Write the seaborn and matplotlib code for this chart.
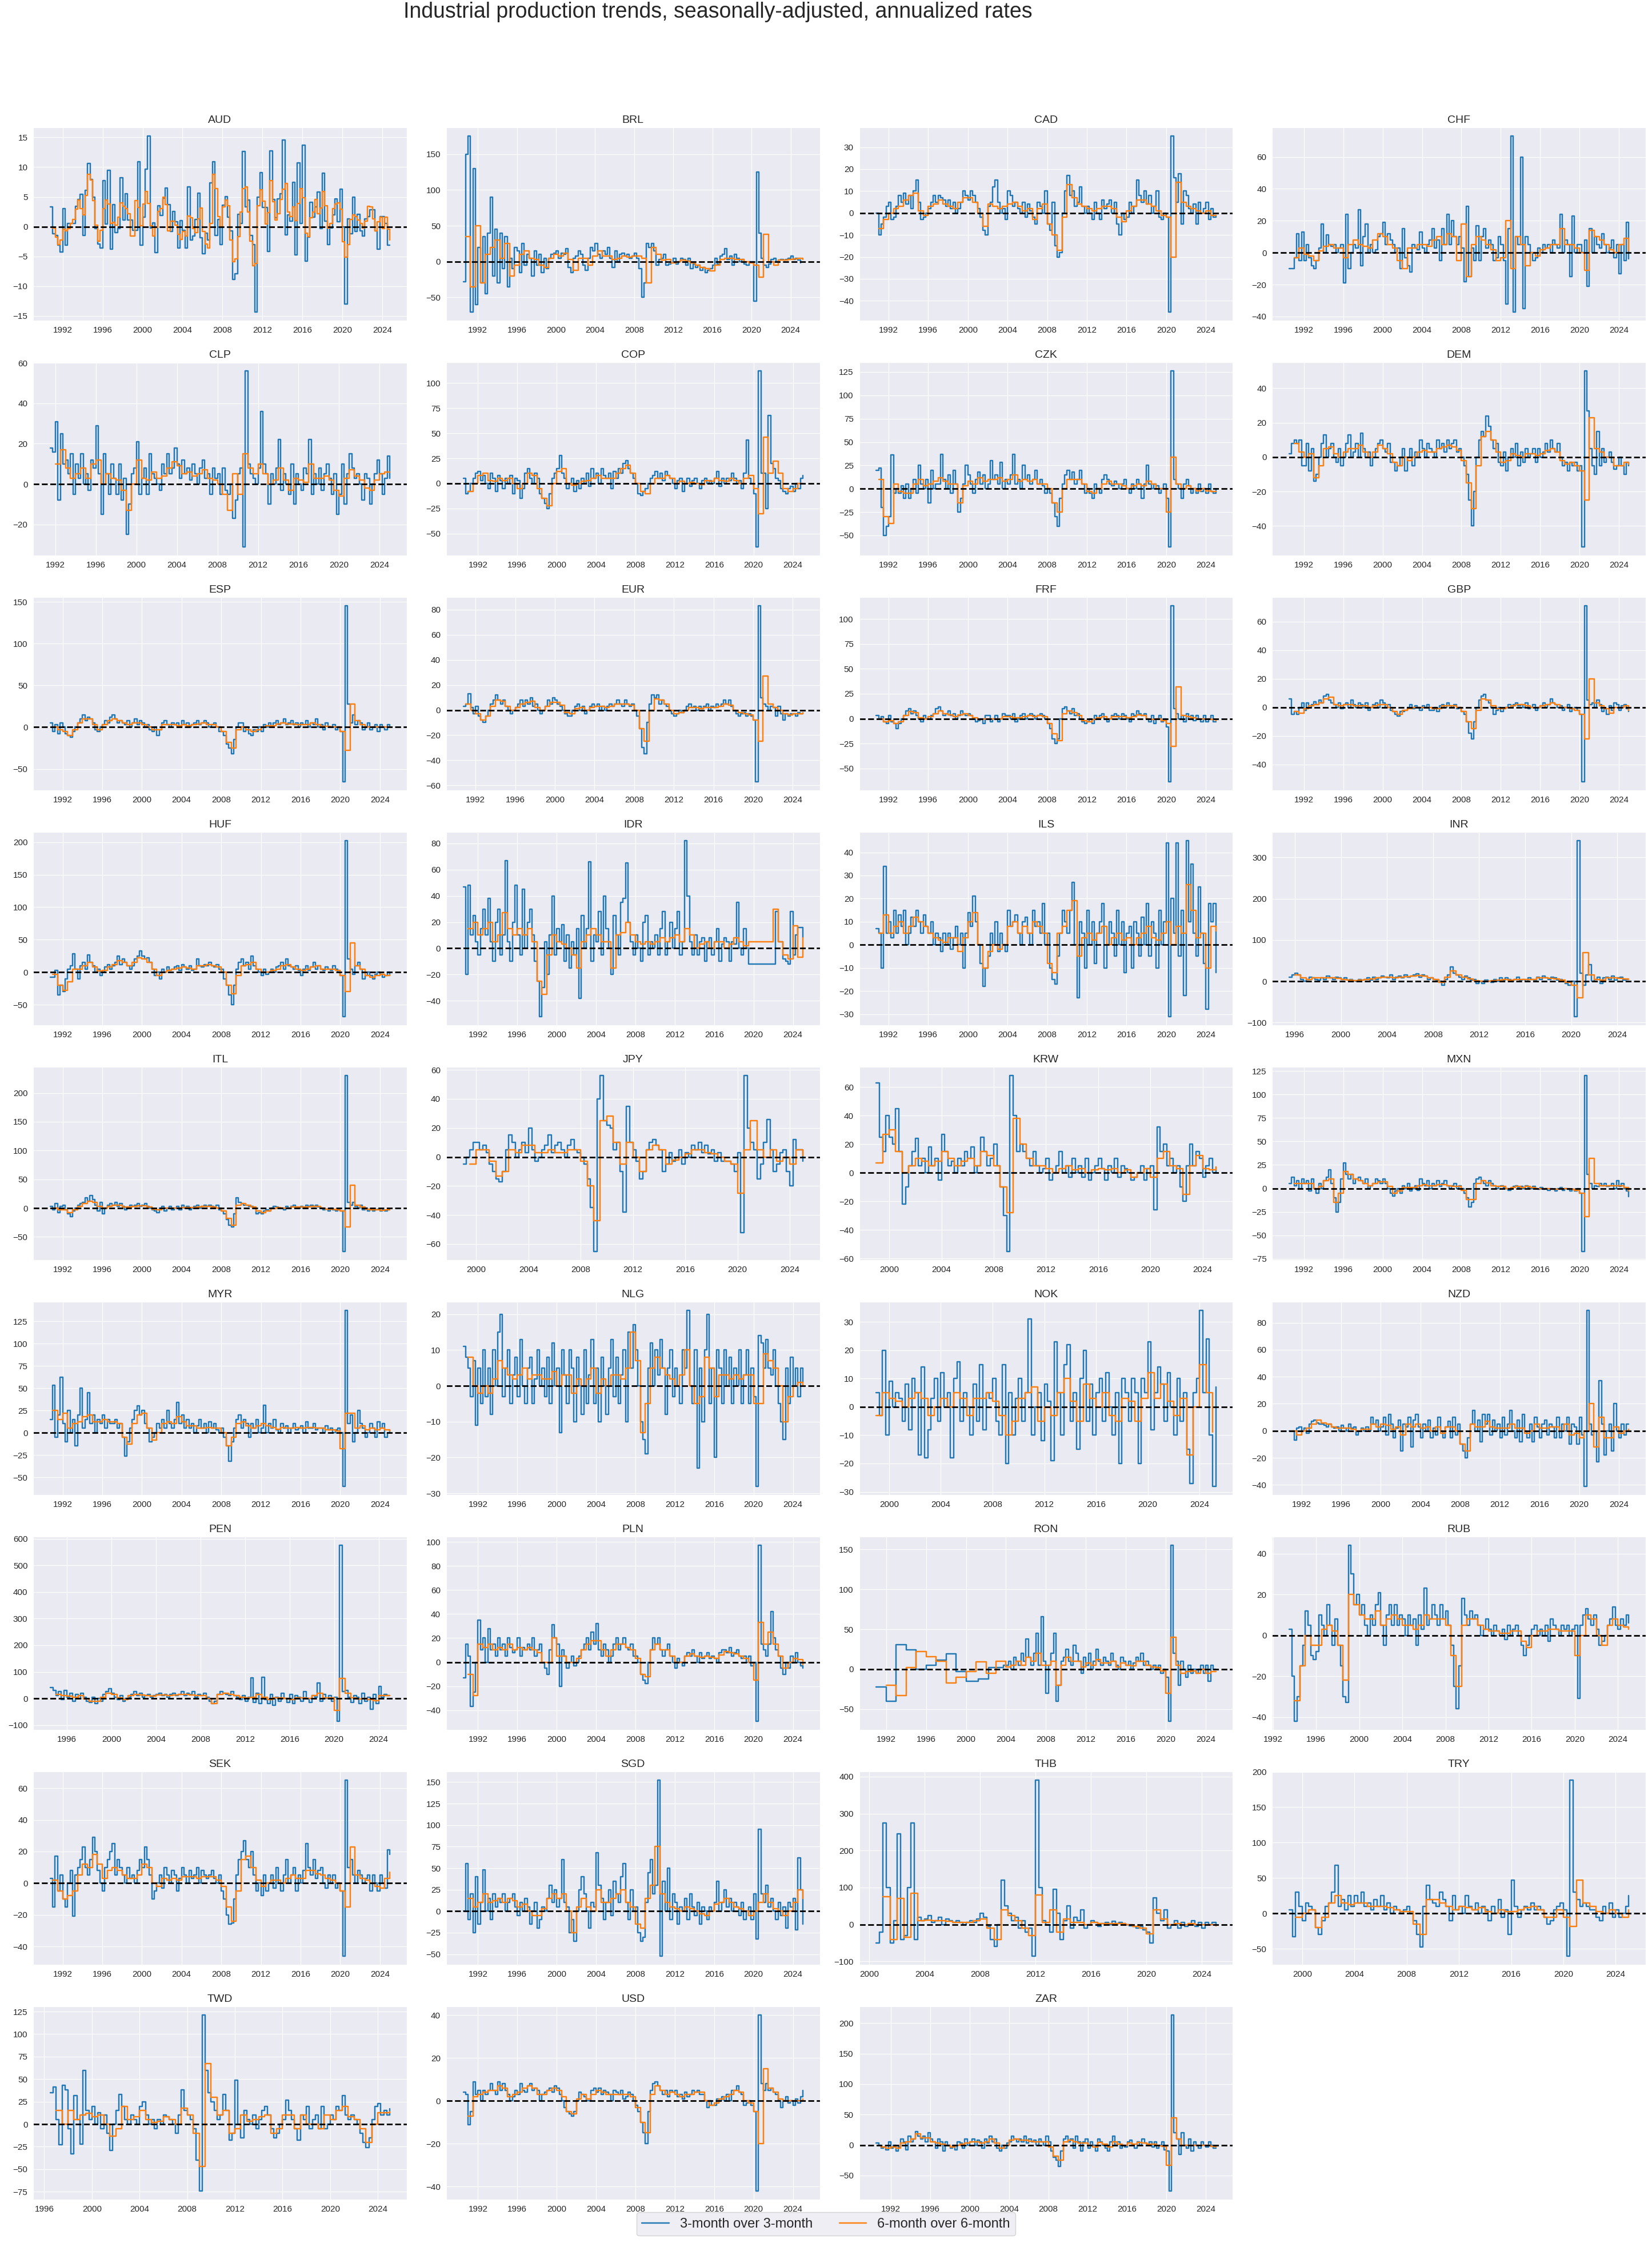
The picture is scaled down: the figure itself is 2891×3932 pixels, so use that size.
import numpy as np
import pandas as pd
import matplotlib
matplotlib.use("Agg")
import matplotlib.pyplot as plt
import matplotlib.dates as mdates
from matplotlib.lines import Line2D
import seaborn as sns

TITLE = "Industrial production trends, seasonally-adjusted, annualized rates"
LABEL_3M = "3-month over 3-month"
LABEL_6M = "6-month over 6-month"
CODES = ["AUD", "BRL", "CAD", "CHF", "CLP", "COP", "CZK", "DEM", "ESP", "EUR", "FRF", "GBP",
         "HUF", "IDR", "ILS", "INR", "ITL", "JPY", "KRW", "MXN", "MYR", "NLG", "NOK", "NZD",
         "PEN", "PLN", "RON", "RUB", "SEK", "SGD", "THB", "TRY", "TWD", "USD", "ZAR"]

# ---- data: (start date, step in months, values) ----
AUD_3M_START, AUD_3M_STEP = "1990-10-01", 3
AUD_3M = [3.3,
          -1.2, -1.5, -3.1, -4.3, 3.0, -3.1, 0.5, 0.5, 0.5, 3.4, 4.6, 5.4, -1.5, 6.1, 10.6, 7.9,
          5.0, -0.3, -2.9, -3.6, 7.7, 0.4, 9.5, -3.8, 3.7, -1.0, -0.3, 8.2, 1.1, 5.5, 1.1, 1.1,
          -0.6, -0.6, 10.9, -3.1, 1.6, 9.7, 15.2, -0.2, 0.6, -4.4, 3.5, 1.9, 4.8, 6.5, 3.7, -0.8,
          2.6, 0.8, -3.6, 1.0, -0.6, -3.6, 6.7, -2.2, -1.6, 1.2, 5.6, -1.9, -4.5, -1.1, -2.2, 7.4,
          10.9, -1.5, 1.2, -3.0, 3.6, 5.1, 1.6, -0.7, -8.9, -7.9, 2.1, 0.5, 12.6, 3.3, 4.5, -1.5,
          -3.0, -14.3, 5.0, 9.1, 3.2, 3.2, -4.2, 12.7, 4.6, 1.5, 4.7, 5.5, 14.6, -1.4, 2.0, 0.9,
          7.5, -4.7, 10.7, 0.5, 13.7, -5.8, -1.8, 4.1, 1.6, 3.3, 5.8, -0.3, 9.0, 0.9, -3.0, -0.2,
          2.0, 4.7, 0.8, 6.3, 0.0, -13.0, 1.3, -1.2, 5.0, -0.8, 2.1, -0.7, -1.6, 1.3, 1.7, 2.8,
          2.8, -0.7, -3.8, 1.7, 1.7, 0.5, -3.1, -3.1]
AUD_6M_START, AUD_6M_STEP = "1991-01-01", 3
AUD_6M = [-0.2, -1.8, -3.0, -2.2, -0.4, -0.7, -0.3, 0.5, 1.2, 2.9, 4.5, 3.0, 2.0, 5.2, 8.8, 7.8,
          4.4, 0.3, -2.4, -0.6, 3.0, 4.5, 3.8, 0.5, 0.7, 0.3, 1.6, 4.0, 3.4, 3.0, 2.2, -1.6,
          -1.6, 4.4, 3.2, 0.2, 3.8, 5.9, 3.9, 0.2, -1.6, -0.1, 2.6, 3.0, 5.0, 3.7, -0.7, 0.9,
          0.9, 0.3, -1.3, -2.1, -0.8, -1.6, 1.8, 1.5, -0.3, -1.0, 1.3, 3.1, -0.8, -2.9, -3.6, 0.5,
          8.8, 6.4, 1.7, 0.0, 3.3, 4.5, 3.5, -2.2, -5.9, -5.4, -1.7, 2.5, 6.4, 6.7, 2.5, -2.4,
          -6.6, -6.2, 3.5, 6.2, 4.3, 0.4, 2.4, 7.7, 4.2, 1.1, 2.2, 4.6, 6.3, 7.3, 2.5, 1.7,
          3.3, 1.0, 3.9, 6.4, 4.9, -1.1, -1.7, 1.5, 2.5, 4.6, 2.2, 3.1, 5.9, 3.5, -0.2, 0.5,
          3.0, 3.8, 4.0, 2.9, -2.5, -5.1, -3.0, 1.2, 2.0, 1.7, 1.1, 0.5, -0.2, 0.9, 3.4, 3.3,
          1.3, -0.7, 0.8, 1.6, -0.3, 1.6, -0.4, -2.2]

BRL_3M_START = "1990-07-01"
BRL_3M = [-28, 150,
          175, -70, 130, -60, 20, -30, 35, -45, 40, 90, -20, 45, -30, 40, -10, 35,
          -35, 5, -10, 20, 15, -15, 25, -5, 10, 5, -20, 15, -5, 10, -15, 5,
          -10, 5, 10, 12, 15, 5, 12, 10, 18, -8, -15, 5, 8, 15, 10, -5,
          -12, 5, 20, 15, 25, 10, 5, 15, 10, 20, 5, -8, 15, 0, 10, 12,
          8, 10, 5, 8, 12, 5, -10, -50, -30, 25, 20, 25, 15, -5, 3, 5,
          10, -5, -3, -2, 5, -3, 0, 5, 3, -5, 5, -10, -3, -8, -5, -12,
          -8, -15, -12, -10, -5, 5, -3, 8, 10, 18, 3, 8, -5, 10, 5, 0,
          3, -3, -5, 0, 0, -55, 125, 40, 5, -5, -8, -3, 3, 5, 0, 2,
          3, 2, 3, 5, 8, 3, 5, 2, -2]
BRL_6M_START = "1990-10-01"
BRL_6M = [35, -35, 50, -30, 10, 20, 30, 5, 25, -20, -5, 10, 15, 5, 3, -5, -8, 5, 10, 8,
          12, 3, -12, 5, 5, -5, 8, 15, 8, 8, 3, 5, 8, 6, 8, 8, 5, -30, 20, 10,
          2, 3, -2, 0, 2, 1, -2, -5, -8, -10, -13, -5, 3, 5, 5, 3, 3, 0, -2, -5,
          -22, 38, 0, -5, 2, 2, 3, 4, 5, 3]

CAD_3M_START = "1990-10-01"
CAD_3M = [0,
          -10, -5, -2, 3, 5, -3, -2, 3, 8, 5, 9, 4, 8, 2, 10, 15,
          5, -3, -2, 0, 2, 5, 8, 5, 8, 7, 6, 3, 6, 2, 5, 0,
          2, 5, 10, 8, 6, 10, 8, 5, 2, -2, -8, -10, 3, 5, 12, 15,
          5, 0, 2, -3, 10, 8, 3, 5, 2, 0, 5, -2, 4, 1, -2, -5,
          5, 3, 0, 10, -5, -8, 5, -15, -20, -18, 0, 10, 17, 8, 10, 3,
          5, 12, 3, 0, 3, 0, -3, 5, 0, -3, 6, 2, 4, 6, 0, 5,
          -5, -10, 0, -3, -2, 5, 0, 3, 15, 8, 5, 10, 4, 8, 0, 3,
          10, -2, -3, 0, -2, -45, 35, 16, 5, 18, -5, 10, 8, 2, 0, 4,
          -5, 5, 0, 2, 5, -3, 2, -2, -1]
CAD_6M_START = "1991-01-01"
CAD_6M = [-7, -3, 0, 2, 3, 6, 8, 9, 1, -1, 3, 4, 6, 4, 3, 2, 5, 7, 7, 5,
          0, -6, 4, 3, 2, 3, 4, 5, 3, 1, 2, -3, 2, 4, -5, -10, -17, -2, 13, 7,
          4, 3, 2, 1, 2, 3, 3, 2, -2, -4, 1, 3, 6, 6, 4, 3, 1, -1, -2, -20,
          14, 5, 3, 2, 1, 0, 1, -1, -1]

CHF_3M_START = "1990-07-01"
CHF_3M = [-10, -10,
          -3, 12, -5, 13, -5, 5, -3, -8, -10, -5, 3, 18, 0, 11, 5, 4,
          5, 0, 3, 5, -19, 24, -10, 0, 5, 3, 27, -8, 10, 18, 0, 5,
          0, 2, 10, 12, 19, 5, 12, 8, 5, 0, 3, -10, 15, -3, -8, -12,
          5, 3, 2, 13, 3, 0, 5, 8, 15, 3, 8, -5, 15, 5, 24, 5,
          20, 10, 5, 10, 3, -18, 29, -15, 3, -5, 17, -5, 10, 15, 3, 8,
          5, -5, -3, 10, 5, -5, -32, 15, 73, -37, 10, 5, 60, -35, 10, 5,
          0, -5, -3, 3, 0, 5, 3, 5, 0, 8, 5, 3, 24, 0, 8, 5,
          -15, 23, 0, 5, 5, 0, 8, -21, 15, 0, 10, 5, 3, 12, 5, 0,
          3, 8, -3, 5, -13, 5, -5, 19, -4]
CHF_6M_START = "1991-01-01"
CHF_6M = [-3, 3, -1, -2, -5, 1, 4, 5, 3, 3, -3, 5, 8, 5, 4, 3, 8, 12, 10, 5,
          3, -5, -10, 3, 3, 5, 5, 4, 8, 10, 5, 12, 10, -5, 18, -15, 5, 10, 8, 5,
          2, -5, -3, 20, -10, 10, 5, -8, 0, -2, 2, 3, 5, 5, 15, 5, 5, 3, 0, -11,
          14, 10, 8, 5, 2, 0, 5, 9, 1]

CLP_3M_START = "1991-07-01"
CLP_3M = [18, 16,
          31, -8, 25, 10, 12, 5, 15, -5, 10, 3, 15, 0, 5, -3, 12, 8,
          29, 5, -15, 15, 5, -5, 10, 3, -5, 10, -8, 3, -25, -10, 5, 8,
          21, -5, 3, 8, -5, 15, 5, 3, 0, -3, 10, 5, 15, 5, 8, 18,
          10, 3, 12, 5, 8, 2, 10, 5, 0, 8, 12, 3, 5, -5, 8, 3,
          5, -5, 8, -3, -5, 0, -17, -8, 5, 8, -31, 56, 10, 5, 3, 0,
          8, 36, 10, 5, -10, 5, 0, 8, 22, -3, 5, 0, -5, 10, -10, 5,
          0, -3, 8, 5, 22, -5, 5, 0, 8, -3, 5, 10, 3, -5, 5, -15,
          -5, 10, -10, 5, 15, 8, 3, 5, 0, -8, 5, 3, -10, 0, 5, 12,
          5, -5, 3, 14, 3]
CLP_6M_START = "1992-01-01"
CLP_6M = [10, 17, 8, 3, 5, 8, 3, 10, 12, 0, 5, 3, 2, -3, -13, 0, 12, 3, 2, 6,
          3, 4, 8, 11, 9, 5, 6, 4, 5, 7, 3, 2, 0, -5, -13, 5, -5, 15, 8, 5,
          10, 5, 0, 2, 8, 2, -3, 3, 2, 1, 10, 3, 3, 4, 2, -3, -6, 3, 7, 4,
          2, -2, -3, 2, 5, 6, 6]

COP_3M_START = "1990-07-01"
COP_3M = [5, -10,
          -8, 0, 5, 10, 12, 3, 8, 0, -5, 10, 5, -8, 8, 3, -5, 5,
          0, 8, -10, 5, 3, -15, -5, 10, 15, 5, 0, 10, 5, -10, -15, -20,
          -25, -10, 5, 10, 15, 28, 10, 5, -5, 0, 5, -8, 3, -5, 5, 0,
          10, -3, 15, 5, 10, 0, 15, 8, 5, 10, -5, 12, 5, 15, 10, 20,
          23, 15, 10, 5, 0, -10, -12, -8, -5, 0, 5, 8, 12, 5, 10, 3,
          12, 8, 5, 0, -5, 3, 5, -8, 0, 5, -3, 3, 5, 0, -5, 3,
          5, 0, 3, 0, 5, 12, -3, 5, 0, 5, 3, 10, 5, 0, 3, -5,
          10, 43, 5, 0, -10, -63, 112, 10, 10, -25, 68, 20, 15, 5, 3, -5,
          -8, -10, -5, -3, -8, 0, -5, 5, 8]
COP_6M_START = "1991-01-01"
COP_6M = [-8, 0, 8, 10, 3, 2, 5, 3, 5, 0, -5, 0, 10, 8, -5, -15, -22, 0, 12, 15,
          0, -2, 0, 2, 3, 5, 8, 5, 5, 5, 10, 15, 18, 10, 0, -8, -10, 0, 5, 5,
          8, 5, 0, 2, 0, 1, 0, -1, 3, 2, 5, 3, 2, 5, 3, 0, 5, 8, -5, -30,
          46, 10, 22, 10, -5, -8, -5, 0, 0]

CZK_3M_START = "1990-10-01"
CZK_3M = [20,
          22, -20, -50, -40, -30, 36, -5, 0, -5, 3, -10, 5, -10, 0, 10, -5,
          25, 5, 0, 10, -15, 20, 0, 5, 5, 37, 10, 0, 15, -5, 20, 5,
          -25, -10, 5, 25, 15, 5, -5, 10, 18, 5, 15, 0, 5, 30, 10, 15,
          5, 28, 0, 10, 5, 15, 37, 5, 10, 0, 25, 10, 15, 5, 10, 20,
          5, 10, 3, -5, 0, -5, -15, -30, -40, -10, 5, 15, 20, 10, 18, 5,
          10, 20, 5, -5, 0, -5, -10, 5, 0, -5, 10, 15, 10, 5, 3, 8,
          5, 0, 5, 10, 0, -5, 5, 0, 10, 5, -10, 5, 25, 5, 0, 5,
          3, -5, 0, 5, -10, -62, 126, 10, 5, 0, -10, 5, 10, 3, -5, 0,
          -5, 5, -3, 0, -5, 5, -3, -5, 0]
CZK_6M_START = "1991-01-01"
CZK_6M = [10, -30, -37, 5, -3, -5, -5, 5, 10, 3, 5, 8, 12, 8, 5, 5, -15, 3, 8, 5,
          12, 8, 10, 10, 12, 8, 10, 15, 8, 10, 8, 10, 5, 5, 0, -15, -25, 0, 10, 10,
          10, 5, -3, -5, 0, 5, 8, 5, 5, 3, 0, 3, 5, 3, 8, 5, 0, 0, -25, 34,
          5, 0, 3, 0, -2, 0, -2, -3, -3]

DEM_3M_START = "1990-07-01"
DEM_3M = [2, 8,
          10, 8, 10, -5, -5, 8, -8, 5, -14, -10, 0, 8, 13, 0, 5, 8,
          0, -3, 5, -5, 0, 8, 13, 0, 3, 8, 0, 14, 5, 0, 3, -5,
          0, 5, 8, 10, 5, 3, 8, -3, -3, -8, -5, 0, 5, -8, 0, 5,
          -5, 3, 0, 10, 5, 0, 8, 5, 3, 0, 10, 5, 8, 3, 10, 5,
          8, 10, 3, 5, 0, -5, -10, -25, -40, -20, 0, 10, 15, 12, 24, 18,
          10, 5, 8, -3, -5, 3, -8, 0, 5, 0, 8, -5, 3, -3, 5, 0,
          2, 5, -3, 5, 0, 3, 8, 3, 10, 5, 3, 8, 0, -5, -3, -8,
          -3, -5, -3, -8, -5, -52, 50, 27, 5, -5, -10, 15, -5, 5, -3, 0,
          3, -3, -7, -5, 0, -5, -10, -3, -5]
DEM_6M_START = "1991-01-01"
DEM_6M = [8, 3, 0, 2, -12, -5, 5, 6, 2, 0, 3, 5, 5, 7, 3, 0, 3, 7, 5, 2,
          -3, -5, 0, -2, 0, 3, 4, 3, 3, 5, 6, 7, 6, 4, -2, -15, -30, -5, 12, 15,
          10, 3, -3, -2, 2, 1, 0, 2, 2, 1, 2, 4, 5, 3, -2, -4, -3, -5, -8, -25,
          23, 5, 3, 0, 0, -5, -5, -3, -4]

ESP_3M_START = "1990-10-01"
ESP_3M = [5,
          -5, 3, -8, 5, 0, -8, -10, -12, -5, 0, 5, 10, 15, 8, 12, 10,
          5, -3, -5, 0, 3, 8, 5, 12, 15, 10, 5, 8, 5, 3, 8, 0,
          5, 10, 3, 8, 5, 0, 3, -3, -5, 0, -10, -3, 5, 8, 3, 0,
          5, 3, 5, 0, 8, 3, 5, 0, 3, 5, 8, 3, 5, 8, 5, 0,
          3, 5, 0, -5, -5, -10, -20, -25, -32, -15, 0, 5, 5, -5, 0, -8,
          -10, -3, -5, 0, -5, 3, 0, 5, 0, 5, 8, 3, 5, 10, 3, 5,
          8, 3, 5, 0, 5, 3, 8, 0, 5, 3, 10, 0, 3, -3, 5, 0,
          0, 3, -3, 0, -5, -65, 145, 28, 5, 15, 3, 8, 5, -3, 0, 5,
          -3, 0, 3, -5, 3, 0, -3, 3, 0]
ESP_6M_START = "1991-01-01"
ESP_6M = [0, -3, -5, -10, -3, 5, 10, 10, 3, -3, 3, 8, 10, 8, 5, 3, 5, 5, 3, 0,
          -3, -3, 3, 3, 3, 2, 3, 2, 3, 4, 5, 3, 3, 0, -5, -18, -25, -3, 0, -3,
          -5, -3, 0, 2, 2, 4, 5, 4, 4, 3, 3, 3, 5, 3, 1, 1, 0, 0, -5, -28,
          28, 8, 3, 0, 0, 0, 0, 0, 0]

EUR_3M_START = "1990-10-01"
EUR_3M = [3,
          5, 13, 2, -3, 3, -5, -8, -10, -5, 0, 5, 8, 12, 8, 5, 8,
          3, 0, -3, 0, 2, 5, 8, 3, 8, 5, 10, 3, 5, 0, -3, 0,
          3, 8, 5, 10, 8, 5, 3, 0, -3, -5, -5, 0, 3, 5, 0, 3,
          -3, 0, 3, 5, 3, 5, 0, 3, 0, 3, 5, 3, 5, 8, 5, 3,
          8, 5, 3, 5, 0, -5, -15, -30, -35, -10, 5, 12, 10, 12, 5, 8,
          5, 3, 0, -3, -5, -3, 0, -2, 0, 3, 5, 2, 3, 0, 3, 1,
          3, 5, 0, 3, 2, 5, 3, 5, 8, 5, 8, 3, 0, -3, -5, -3,
          -2, -5, -3, -5, -8, -57, 83, 10, 5, 3, 0, 3, 2, -5, 3, -3,
          -8, -3, -5, -3, -3, -5, -2, -3, -2]
EUR_6M_START = "1991-01-01"
EUR_6M = [5, 0, -3, -8, -5, 3, 8, 7, 3, 0, 2, 5, 6, 7, 2, 0, 3, 6, 6, 4,
          -2, -3, 1, 2, 0, 2, 3, 3, 2, 3, 5, 5, 5, 4, 0, -15, -25, 0, 9, 8,
          5, 0, -3, -2, 0, 2, 2, 1, 2, 2, 2, 3, 5, 4, 0, -2, -3, -4, -8, -25,
          27, 5, 2, 0, -3, -4, -3, -3, -2]

FRF_3M_START = "1990-10-01"
FRF_3M = [3,
          0, 2, -3, -5, 3, -3, -5, -10, -5, 0, 3, 8, 10, 5, 8, 3,
          0, -3, 3, 0, 0, 3, 5, 10, 12, 8, 3, 5, 8, 3, 5, 0,
          3, 8, 5, 3, 5, 3, 0, -3, -2, 0, -5, 3, 3, -3, 0, 3,
          -3, 0, 5, 3, 3, 0, 5, -3, 0, 3, 5, 0, 3, 5, 3, 0,
          3, 5, 3, 0, -5, -10, -20, -25, -20, 0, 10, 12, 8, 5, 10, 3,
          5, 0, -3, -5, -3, 0, -5, 3, 0, 3, 5, 0, -3, 0, 3, 5,
          3, 0, 5, 3, 0, -3, 5, 3, 8, 5, 3, 5, 0, -3, 3, -5,
          0, 3, -3, 0, -8, -63, 113, 10, 5, 0, 3, -3, 5, 0, 3, -2,
          3, 0, -3, 3, -3, 0, 3, -3, -3]
FRF_6M_START = "1991-01-01"
FRF_6M = [0, -3, -2, -5, -3, 3, 7, 6, 1, 0, 2, 5, 8, 5, 4, 2, 4, 5, 3, 1,
          -1, 0, 0, 0, 0, 2, 2, 1, 1, 2, 3, 2, 3, 2, -5, -15, -22, 5, 8, 6,
          3, -2, -3, -1, 1, 2, 0, 2, 2, 2, 1, 2, 4, 3, 0, -1, 0, -2, -5, -28,
          32, 3, 2, 1, 0, 0, 0, -1, -2]

GBP_3M_START = "1990-07-01"
GBP_3M = [6, -5,
          -3, -5, 0, 3, -2, 3, 0, 2, 4, 2, 5, 3, 8, 9, 5, 3,
          2, 0, 3, -1, 2, 3, 0, 5, 2, 0, 3, 2, 0, 3, -2, 0,
          2, 3, 0, 5, 3, 0, 2, -2, -3, -5, -6, -3, -3, -2, 0, 2,
          -1, 1, 0, -2, 1, 0, 2, -2, -2, 0, -3, 1, 2, 0, 3, 1,
          0, 2, -1, 0, -3, -5, -10, -18, -22, -10, 0, 5, 8, 9, 5, 3,
          0, -5, -2, 0, -3, -1, 0, 2, 0, 2, 3, 1, 2, 0, 3, -1,
          0, 2, -2, 0, 1, 3, 0, 2, 6, 3, 2, 0, 1, -2, 0, 2,
          -3, -1, 0, -2, -5, -52, 71, 5, 2, 3, 0, 5, 2, -3, -1, -5,
          1, -2, 3, 2, -2, 1, 2, -1, -3]
GBP_6M_START = "1991-01-01"
GBP_6M = [-3, -4, -1, 1, 2, 3, 6, 7, 2, 1, 2, 2, 1, 1, 1, 0, 1, 2, 2, 0,
          -3, -5, -2, -1, 0, 0, 0, 0, -1, -1, 1, 1, 1, 0, -3, -10, -15, -2, 6, 5,
          1, -1, -1, 0, 1, 2, 2, 1, 0, 0, 1, 2, 3, 2, 0, 0, -1, -2, -5, -22,
          20, 3, 1, -1, -4, 0, 0, 1, -2]

HUF_3M_START = "1990-10-01"
HUF_3M = [-8,
          -8, 3, -35, -20, -30, -10, 5, 10, 28, 5, -10, 10, 15, 5, 27, 15,
          10, 0, 5, -5, 0, 8, 12, 5, 10, 15, 25, 12, 20, 15, 10, 5,
          10, 20, 25, 33, 25, 20, 22, 15, 5, -5, 0, -10, 5, 0, 8, 3,
          5, 8, 10, 3, 12, 8, 5, 10, 3, 5, 20, 10, 8, 12, 10, 15,
          10, 8, 12, 5, 5, -10, -20, -35, -50, -20, 5, 15, 20, 10, 15, 5,
          25, 10, 5, 0, -5, 5, -3, 0, 5, 0, 8, 10, 15, 5, 20, 10,
          8, 5, 10, 3, -5, 5, 10, 3, 8, 15, 5, 10, 5, 3, 8, 5,
          3, 10, 5, 0, -5, -68, 202, 20, 5, -3, 10, 15, 5, -10, -5, 0,
          -5, -10, -3, 0, -3, -8, -5, 0, -5]
HUF_6M_START = "1991-01-01"
HUF_6M = [-3, -20, -28, -15, 5, 5, 10, 15, 8, 2, 3, 8, 12, 18, 15, 10, 15, 22, 20, 15,
          5, -5, 0, 3, 5, 6, 8, 6, 5, 10, 10, 12, 10, 8, 0, -20, -33, -5, 10, 12,
          15, 5, 0, 0, 3, 5, 10, 12, 8, 5, 3, 5, 8, 10, 5, 5, 5, 3, -5, -30,
          45, 10, 5, -5, -8, -5, -3, -5, -4]

IDR_3M_START = "1990-07-01"
IDR_3M = [47, -20,
          48, 10, 25, 5, -5, 15, 30, 10, 38, 5, -10, 20, 30, -5, 10, 67,
          5, -10, 20, 48, 10, -5, 45, 0, 20, 30, 10, -10, -25, -52, -30, 5,
          -20, 10, 40, -5, 15, 5, 18, -10, 10, -15, 5, -5, 15, -38, 25, 0,
          15, 66, -10, 10, 5, 28, -5, 40, 15, 0, -20, 25, 10, -5, 35, 38,
          65, 20, 5, -5, 10, 0, -10, 20, 25, -5, 5, 0, 10, -5, 15, 28,
          -5, 5, 20, 0, 15, 28, -5, 5, 82, 40, 5, -5, 10, -5, 5, 8,
          -10, 5, 8, -5, 5, 15, -10, 3, 8, 5, -10, 5, 3, 35, 0, -5,
          15, 0, -12, -12, -12, -12, -12, -12, -12, -12, -12, -12, -12, 28, 5, 5,
          -8, -10, -12, 28, -5, 10, 16, 16, 8]
IDR_6M_START = "1991-01-01"
IDR_6M = [15, 20, 10, 15, 20, 5, 10, 27, 15, 10, 15, 10, 15, 5, -25, -35, -5, 10, 5, 3,
          0, -5, -15, 5, 10, 15, 10, 5, 5, -15, 10, 12, 20, 10, 5, 3, 5, 3, 5, 8,
          5, 8, 10, 5, 15, 10, 0, 3, 5, 0, 5, 5, 0, 3, 8, 5, 2, 5, 5, 5,
          5, 5, 30, 5, -5, -8, 17, -7, 8]

ILS_3M_START = "1990-10-01"
ILS_3M = [7,
          5, -10, 34, 5, 10, 3, 15, 5, 13, 8, 15, 0, 5, 12, 8, 15,
          10, 5, 13, 8, 5, 10, 0, 5, 3, -3, 5, 0, 5, -2, 3, 8,
          0, 5, -10, 5, 14, 8, 21, 10, 0, -8, -18, -10, -5, 5, 0, 10,
          -3, 5, 0, -3, 15, 8, 10, 13, 5, 0, 10, 12, 5, 0, 15, 8,
          10, 5, 18, 0, 5, -10, -15, -17, -5, 5, 15, 10, 5, 15, 27, 0,
          -23, 10, 5, -10, 15, 0, 10, -8, 5, 10, 18, -10, 0, 10, 5, -5,
          15, 0, 10, -12, 5, 8, -10, 10, 5, -5, 12, 0, 18, -5, 10, 5,
          -10, 15, 0, 10, 44, -31, 20, 5, 44, -5, 15, -22, 45, 10, 35, 5,
          -5, 25, 5, -8, -28, 18, 10, 18, -12]
ILS_6M_START = "1991-01-01"
ILS_6M = [5, 13, 5, 8, 10, 5, 8, 12, 10, 8, 5, 3, 2, 1, 3, 3, -3, 3, 10, 14,
          0, -10, -3, 0, -2, 0, 8, 10, 5, 8, 5, 10, 8, 5, -8, -12, 5, 8, 15, 19,
          -5, 3, 5, 2, 5, 8, 0, 3, 5, 2, 3, 0, 3, 5, 8, 3, 2, 5, 10, 0,
          8, 5, 26, 15, 3, 5, -10, 8, 6]

INR_3M_START = "1995-07-01"
INR_3M = [10, 15,
          20, 15, 5, 0, 5, 10, 8, 5, 3, 8, 5, 12, 8, 5, 10, 8,
          5, 8, 3, 5, 2, 0, 5, 3, 5, 8, 3, 10, 5, 8, 12, 10,
          8, 15, 5, 10, 12, 8, 15, 10, 12, 15, 18, 10, 15, 12, 5, 8,
          5, 3, 0, -10, 5, 15, 35, 20, 15, 10, 5, 12, 8, 3, 5, -5,
          0, -5, 3, 0, -3, 5, 0, 8, 3, 8, 5, 0, 5, 10, 3, 5,
          0, 8, 5, 3, 10, 5, 12, 8, 5, 10, 8, 3, 5, 0, -5, -10,
          0, -85, 340, 20, -10, 15, 40, 0, 5, 10, -5, 8, 10, 5, 12, 3,
          8, 10, 3, 5, 5]
INR_6M_START = "1996-01-01"
INR_6M = [15, 8, 5, 8, 8, 8, 8, 7, 5, 3, 2, 3, 5, 6, 8, 10, 10, 9, 10, 11,
          13, 14, 12, 8, 4, -3, 10, 25, 15, 10, 6, 2, 0, 0, 2, 3, 5, 3, 5, 5,
          5, 4, 8, 8, 7, 6, 3, -3, -10, -40, 70, 15, 5, 3, 8, 8, 7, 6, 5]

ITL_3M_START = "1990-10-01"
ITL_3M = [3,
          -3, 8, -8, 3, 5, -3, -10, -15, -5, 0, 5, 8, 10, 18, 12, 22,
          15, 5, -5, 10, -10, 0, 5, 8, 5, 10, 3, 8, 3, -3, 0, 5,
          3, 5, 8, 3, 5, 8, 3, 0, -3, -5, -8, 0, 3, -5, 0, 3,
          -3, 0, 3, -3, 5, 0, 3, -3, 0, 3, 5, 0, 3, 5, 3, 5,
          3, 0, 5, -3, -5, -10, -20, -30, -33, -10, 18, 10, 8, 5, 5, 3,
          3, 0, -10, -8, -10, -5, -3, -5, 0, 3, 2, 0, 0, -3, 3, 0,
          3, 5, 2, 0, 3, 0, 5, 3, 5, 3, 5, 2, 0, -3, -2, -5,
          0, -3, -5, -3, -5, -75, 230, 10, 5, 10, 3, 0, 5, -3, 0, -5,
          -3, -5, -3, -2, -5, -3, -5, -3, -3]
ITL_6M_START = "1991-01-01"
ITL_6M = [0, -3, -3, -8, -3, 3, 8, 12, 10, 3, 0, 3, 5, 5, 2, 2, 3, 4, 4, 2,
          -2, -3, 0, 0, 0, 0, 1, 1, 1, 2, 3, 3, 2, 0, -5, -18, -30, 5, 8, 5,
          2, -5, -8, -5, -1, 1, 0, 0, 2, 2, 2, 2, 3, 3, 0, -2, -2, -3, -5, -33,
          40, 5, 2, -2, -3, -3, -4, -3, -3]

JPY_3M_START = "1999-01-01"
JPY_3M = [-5, 0, 5, 10,
          10, 5, 8, 3, -5, -10, -15, -17, -10, 5, 15, 10, 0, 5, 10, 3,
          20, 5, -3, 0, 5, 8, 15, 3, 8, 10, 5, 0, 8, 12, 5, 3,
          0, -5, -15, -35, -65, 40, 56, 25, 22, 20, 5, 10, -10, -38, 35, 10,
          5, -3, -15, -10, 5, 10, 12, 8, 5, -10, -5, 3, -3, 0, 5, -5,
          3, 0, 8, 5, 10, 3, 8, 2, 5, -3, 3, -3, -3, -3, -5, -10,
          3, -52, 56, 20, 10, 5, -15, -5, 10, 26, 5, -10, -5, 3, 5, -10,
          -20, 12, 5, 5, -3]
JPY_6M_START = "1999-07-01"
JPY_6M = [-5, 5, 5, -3, -13, -10, 5, 3, 8, 8, 3, 3, 5, 3, 3, 5, 5, -3, -20, -44,
          25, 28, 10, -5, 10, 0, -10, 5, 8, 5, -5, -2, 0, 2, 5, 5, 3, 2, 0, -3,
          -5, -25, 5, 25, 5, 0, 5, -3, 0, -5, 5, 1]

KRW_3M_START = "1999-01-01"
KRW_3M = [63, 25, 15, 40,
          25, 20, 45, 15, -22, -10, 5, 15, 24, 5, 10, 0, 18, 5, 10, -5,
          27, 15, 5, 8, 0, 10, 5, 15, 10, 18, 0, 5, 25, 15, 5, 10,
          20, 5, -10, -30, -55, 68, 40, 15, 20, 15, 10, 5, 15, 5, 0, 3,
          10, -5, 0, 5, 15, 0, 5, -3, 10, 0, 5, -3, 10, -5, 0, 5,
          10, 3, -5, 5, 0, 10, -3, 5, 3, 0, -5, -3, 0, 5, -5, 3,
          5, -26, 32, 15, 20, 5, 10, 0, 5, -10, -20, 5, 20, 5, 15, 10,
          -3, 5, 10, 0, 4]
KRW_6M_START = "1999-01-01"
KRW_6M = [7, 27, 30, 15, 0, 5, 10, 8, 5, 8, 15, 10, 5, 8, 10, 5, 15, 12, 5, -10,
          -28, 38, 20, 10, 5, 5, 3, 0, 3, 5, 2, 3, 0, 2, 3, 2, 3, 0, 2, -3,
          0, 3, -3, 10, 15, 5, 3, -15, 5, 12, 3, 2, 4]

MXN_3M_START = "1990-07-01"
MXN_3M = [5, 12,
          3, 8, 0, 10, 5, 8, -3, 10, 0, -5, 5, 0, 8, 12, 20, 5,
          -10, -25, -15, 10, 27, 15, 10, 15, 5, 10, 12, 8, 5, 10, 0, 3,
          5, 10, 8, 5, 10, 5, 0, -5, -8, -3, 0, -5, 3, 0, 5, -3,
          0, 3, -2, 10, 5, 3, 8, 0, 5, 3, 8, 2, 5, 8, 3, 0,
          3, 5, 0, 3, 0, -5, -10, -20, -15, 5, 10, 12, 8, 5, 3, 8,
          5, 3, 0, 2, 3, 1, 0, -2, 0, 2, 3, 1, 2, 0, 3, 1,
          0, 2, 0, -1, 1, -1, 0, -2, 0, -1, -3, 0, 1, -2, 0, -1,
          -3, -1, -3, 0, -5, -67, 120, 15, 5, 0, 3, 2, 5, 3, 5, 2,
          3, 5, 0, 8, 2, 5, 0, -3, -9]
MXN_6M_START = "1991-01-01"
MXN_6M = [5, 5, 5, 5, 0, 2, 8, 10, -15, -5, 18, 15, 10, 8, 5, 3, 5, 7, 7, 2,
          -5, -3, 1, 1, 1, 3, 4, 3, 3, 4, 4, 3, 2, 2, -2, -12, -12, 5, 8, 6,
          3, 2, 2, 0, 1, 2, 1, 2, 1, 0, 0, 0, -1, -1, 0, 0, -1, -2, -5, -30,
          32, 5, 3, 3, 3, 3, 3, 1, -3]

MYR_3M_START = "1990-10-01"
MYR_3M = [15,
          53, -5, 20, 62, 10, -10, 25, 0, 15, -15, 20, 50, 5, 15, 45, 10,
          20, 0, 15, 10, 20, 5, 15, 10, 10, 15, 5, 10, -5, -26, -10, 5,
          15, 25, 30, 20, 25, 10, 5, -10, -5, 0, 10, 5, 15, 5, 25, 10,
          5, 15, 34, 10, 20, 5, 15, 5, 10, 0, 8, 15, 5, 10, 0, 12,
          5, 10, 3, 0, 5, -5, -15, -32, -10, 5, 15, 20, 5, 15, 10, -5,
          10, 5, 15, 0, 5, 31, 0, 10, 5, 15, 3, 0, 10, 5, 8, 0,
          5, 10, 3, 5, 8, 0, 12, 5, 5, 10, 3, 5, 5, 0, 8, 3,
          5, 0, 3, 5, 0, -60, 137, 10, 20, -10, 0, 25, 10, 5, -5, 0,
          10, 5, -5, 12, 5, 10, -5, 0, 3]
MYR_6M_START = "1991-01-01"
MYR_6M = [25, 15, 22, 5, 10, 12, 18, 20, 12, 12, 15, 12, 12, 10, -5, -13, 10, 20, 22, 5,
          -8, 0, 10, 12, 10, 18, 12, 8, 8, 5, 5, 6, 5, 5, 0, -15, -5, 10, 12, 8,
          5, 8, 10, 8, 6, 4, 6, 5, 5, 6, 5, 6, 6, 5, 5, 3, 3, 2, -18, 22,
          22, 5, 8, 3, 5, 3, 5, 3, 2]

NLG_3M_START = "1990-07-01"
NLG_3M = [11, 8,
          5, -3, 7, -11, 5, -5, 10, -3, 5, -8, 10, 0, 15, 20, -3, 5,
          10, -5, 3, 8, -3, 13, 0, -5, 5, 8, -5, 2, 10, 0, 5, -3,
          8, -5, 12, 0, 5, -13, 10, 3, -5, 10, 5, -10, 8, 0, -8, 10,
          -5, 3, 13, -5, 5, -10, 8, 0, -8, 5, 13, -3, 8, -5, 3, 10,
          -10, 15, 5, 17, 10, 0, -10, -15, -19, 5, 12, 0, 10, 3, 13, 5,
          -8, 5, 10, -3, 5, 0, -5, 10, 5, 21, 0, -5, 10, -23, 5, -10,
          10, 20, -5, 5, -20, 10, 5, -5, 10, 0, 8, -5, 5, 0, 10, -5,
          3, 10, -5, 5, -3, -28, 14, 12, 5, 13, 5, 3, 10, 0, -5, -10,
          -15, 5, -5, 8, 0, 5, -3, 5, 1]
NLG_6M_START = "1991-01-01"
NLG_6M = [8, 0, -2, 0, -2, 2, 7, 5, 3, 2, 3, 5, 2, 3, 3, 2, 2, 4, 0, 3,
          3, -2, 2, 0, 2, 5, -2, 2, 0, 3, 3, 2, 5, 15, 7, -13, -5, 5, 8, 5,
          3, 2, 0, 3, 10, 0, -5, -3, 8, 5, -3, 3, 3, 2, 3, 2, 3, 3, -5, -5,
          9, 7, 5, 0, -10, -3, 0, 1, 0]

NOK_3M_START = "1999-01-01"
NOK_3M = [5, -3, 20, -10,
          9, 0, 5, 3, -5, 8, -8, 10, 5, -17, 14, -18, -8, 3, 10, -5,
          12, 0, 5, -18, 10, 16, -5, 5, 0, -10, 8, -5, 15, -8, 5, 3,
          10, -5, -10, 15, -20, 5, -10, 3, 10, -5, 5, 31, -10, 0, 5, -12,
          8, 2, -19, 23, 5, -10, 15, 22, -5, 5, -15, 10, 20, -5, 8, -10,
          5, 10, -5, 12, 0, -10, 5, -20, 10, 5, -5, 10, 5, -20, 10, 5,
          23, -8, 5, 14, 8, -5, 12, 0, -10, 10, -5, 5, -15, -27, 5, 10,
          34, 5, 24, -10, -28, 7]
NOK_6M_START = "1999-01-01"
NOK_6M = [-3, 5, 3, 2, 0, 3, 5, 3, -3, 0, 3, 0, 5, 3, -3, 3, 3, 5, 2, -3,
          -10, -5, 3, 5, 7, -5, 0, -3, 5, 10, 2, -5, 8, 3, 0, 5, -3, -5, 3, 2,
          -5, 3, 12, 3, 8, 2, -3, 3, -17, 0, 15, 5, -9]

NZD_3M_START = "1990-10-01"
NZD_3M = [0,
          0, -7, 2, 3, 0, 2, -2, 5, 7, 8, 6, 5, 5, 4, 3, 5,
          3, 2, 3, 0, 4, 2, 0, 5, 2, 3, -3, 0, 2, 0, 3, 0,
          10, 5, 8, 0, 3, 10, -3, 12, 5, -5, 2, 8, -15, 5, 3, 10,
          -12, 8, 12, 3, -5, 5, 0, 8, -5, 2, -3, 10, 0, -5, 3, 7,
          -5, 10, -3, 5, -10, -15, -20, -5, 5, 15, 0, 8, -8, 12, 5, 12,
          -3, 8, 0, 5, -5, 10, -3, 5, 15, 0, -5, 8, -8, 12, 0, -5,
          5, -8, 10, 3, -5, 5, 8, -3, 5, 3, -5, 10, -5, 5, 0, 10,
          -10, 5, 3, -10, 10, -3, -41, 89, 5, -3, 0, -23, 37, 5, -18, 0,
          5, -15, 20, 0, -5, 5, -3, 5, 5]
NZD_6M_START = "1991-01-01"
NZD_6M = [0, -3, 0, 2, 5, 8, 6, 5, 3, 2, 2, 2, 1, 0, 1, 1, 5, 3, 5, 4,
          1, 3, -3, 5, 3, 5, 2, 3, 0, 3, -2, 3, 3, 0, -10, -15, 5, 3, 3, 7,
          3, 2, 2, 2, 5, 2, 2, -2, 0, 5, 2, 2, 3, 3, 0, 5, -3, -2, -5, 0,
          20, -12, 10, -5, -5, 3, -2, 0, 1]

PEN_3M_START = "1994-07-01"
PEN_3M = [40, 30,
          10, 25, -5, 30, 5, 20, -10, 15, 0, 20, 5, -10, -15, 5, -20, 0,
          -10, 15, 25, 37, 20, 5, -5, 10, -10, 0, 5, 15, 25, 10, 20, 5,
          10, 15, 5, 10, 15, 20, 10, 15, 5, 15, 20, 10, 15, 25, 10, 20,
          15, 25, 5, 15, 10, 20, 5, -10, -20, -10, 15, 25, 20, 15, 10, 25,
          10, 5, -5, 10, -10, 5, 78, -15, 20, -20, 80, -5, -20, 15, -25, 5,
          -10, 20, 0, -15, 15, -20, 10, 5, -10, 25, 0, -15, 10, 5, 58, -10,
          15, 0, 10, -10, 5, -85, 575, 25, 30, 5, -15, 10, 5, -20, 20, -10,
          5, -40, 15, -20, 45, 5, 15, 10, 10]
PEN_6M_START = "1995-01-01"
PEN_6M = [15, 10, 8, 5, 10, -3, -10, -10, 5, 20, 15, 3, -5, 10, 15, 12, 10, 8, 12, 12,
          10, 12, 15, 15, 12, 10, 10, 0, -20, 15, 20, 15, 10, 5, 3, 5, 15, 5, -5, 3,
          3, 0, -5, 3, 3, 0, 10, 20, 3, 3, -45, 75, 20, 3, -3, 0, -5, -8, 10, 10, 10]

PLN_3M_START = "1990-07-01"
PLN_3M = [-13, 15,
          5, -37, -25, 0, 35, 10, 20, 0, 28, 10, 15, 5, 20, 10, 15, 5,
          20, 12, 8, 10, 20, 5, 12, 10, 15, 10, 20, 5, 10, 15, 0, -5,
          -10, 10, 31, 20, 15, -20, 10, 5, -5, 0, 5, -3, 0, 5, 10, 15,
          20, 10, 25, 15, 32, 10, 5, 15, 10, 0, 5, 15, 20, 10, 15, 20,
          12, 10, 15, 5, 5, 0, -10, -15, -18, 0, 10, 20, 15, 20, 10, 5,
          10, 15, 5, 0, -5, 3, 0, -3, 5, 8, 5, 10, 5, 0, 8, 3,
          5, 8, 3, 5, 3, 0, 8, 10, 10, 8, 12, 5, 8, 10, 5, 3,
          5, 0, 5, -3, 0, -49, 97, 15, 10, 5, 15, 42, 20, 10, 5, -5,
          -10, 0, -5, 5, 0, 8, 0, -3, -5]
PLN_6M_START = "1991-01-01"
PLN_6M = [-10, -28, 15, 12, 15, 10, 12, 10, 15, 10, 12, 10, 12, 10, 8, 0, 0, 20, 5, 5,
          0, 0, 3, 10, 15, 18, 18, 10, 5, 10, 15, 15, 12, 10, 3, -10, -12, 10, 15, 10,
          10, 5, 0, 0, 5, 7, 5, 4, 5, 4, 3, 6, 9, 8, 7, 5, 3, 0, -15, 33,
          15, 25, 15, 5, -5, 0, 3, 2, -2]

RON_3M_START = "1991-01-01"
RON_3M = [-22, -22, -22, -22, -40, -40, -40, -40, 31, 31, 31, 31, 24, 24, 24, 24,
          0, 0, 0, 0, 5, 5, 5, 5, 11, 11, 11, 11, 19, 19, 19, 19,
          -3, -3, -3, -3, -15, -15, -15, -15, -15, -12, -12, -12, -12, 2, 2, 2,
          2, 2, 2, 5, 5, 10, 0, 15, 10, 5, 20, 10, 38, 15, 5, 20,
          45, 5, 66, 10, -30, 5, 20, 45, -40, -20, 10, 15, 25, 10, 5, 30,
          20, 10, -5, 15, 5, 20, 0, 10, 25, 10, 5, 15, 10, 5, 20, 10,
          5, 0, 15, 10, 5, 10, 0, 8, 15, 10, 20, 5, 10, 5, 0, 5,
          0, 5, -5, 0, -10, -65, 155, 20, 10, -20, 10, 0, -10, 5, -5, 0,
          -5, 0, 5, -5, 5, -15, 5, 0, 0]
RON_6M_START = "1992-01-01"
RON_6M = [-20, -20, -33, -33, 2, 2, 22, 22, 16, 16, 10, 10, -17, -17, -10, -10, -3, -3, 9, 9,
          -5, -5, 10, 10, 3, 5, 10, 5, 15, 10, 20, 5, 5, 10, -20, 5, 15, 10, 10, 3,
          8, 5, 12, 8, 8, 10, 3, 8, 5, 4, 10, 10, 5, 3, 2, -2, -30, 40, 5, -5,
          -3, -2, -5, 0, -5, -3, -3]

RUB_3M_START = "1993-07-01"
RUB_3M = [3, -20,
          -42, -30, -15, -5, 12, 5, -10, -12, -8, 10, 5, 0, 15, 5, -5, 8,
          -5, -15, -30, -33, 44, 30, 15, 20, 10, 15, 5, 0, 10, 5, 15, 21,
          5, -5, 10, 15, 5, 15, 5, 10, 8, 0, 10, 5, 8, -5, 10, 3,
          23, 5, 8, 15, 10, 5, 15, 8, 12, 5, -5, -25, -36, -15, 18, 10,
          5, 12, 8, 10, 5, 0, 3, 8, 3, 0, 5, 2, 0, 3, -2, 5,
          0, 3, 5, 0, -5, -10, -5, 0, 3, 5, 0, 3, 0, 5, -3, 8,
          5, 3, 0, 5, 3, 5, 0, 3, 5, -31, 5, 10, 13, 8, 5, 10,
          3, -5, -3, 0, 5, 8, 14, 5, 3, 8, 5, 10, 6]
RUB_6M_START = "1994-01-01"
RUB_6M = [-32, -15, 0, -5, -5, 3, 5, 2, -5, -22, 20, 15, 10, 8, 8, 12, 5, 8, 10, 8,
          5, 5, 3, 5, 10, 8, 8, 8, 5, -10, -25, 5, 8, 8, 5, 3, 2, 2, 1, 1,
          2, 2, -3, -6, 0, 2, 2, 3, 3, 2, 2, 2, -10, 0, 10, 8, 0, -5, 5, 8,
          5, 4, 3]

SEK_3M_START = "1990-10-01"
SEK_3M = [3,
          -15, 17, -5, 5, -10, -15, 0, 8, -21, 5, 10, 15, 23, 10, 5, 15,
          29, 20, 8, 0, -5, 10, 15, 20, 25, 5, 15, 10, 5, 0, 10, 3,
          5, 0, 8, 15, 10, 23, 15, 5, -10, -5, 0, 5, -3, 10, 5, 0,
          8, 5, -5, 3, 10, 5, 0, 8, 3, 5, 10, 0, 8, 5, 3, 5,
          8, 3, 0, 5, -5, -10, -20, -26, -25, -10, 5, 15, 20, 27, 15, 10,
          20, 5, -5, 0, -8, 5, -5, 0, 5, -3, 10, 0, -5, 5, 15, 0,
          5, 10, -5, 5, 0, 8, 25, 10, 5, 15, 3, 8, 10, 0, -3, 5,
          0, 5, -3, 0, -5, -46, 65, 10, 15, 5, 0, 8, 5, 0, 3, 5,
          -5, 5, 0, -5, 5, 0, -3, 21, 18]
SEK_6M_START = "1991-01-01"
SEK_6M = [2, -5, -10, -8, -5, 5, 12, 10, 18, 12, 3, 8, 10, 8, 5, 3, 3, 5, 12, 10,
          0, -2, 3, 2, 3, 2, 4, 4, 4, 3, 4, 4, 4, 2, -2, -15, -24, -5, 15, 17,
          10, 2, -2, 0, 2, 2, 0, 3, 5, 3, 3, 8, 8, 6, 5, 3, 2, 0, -5, -15,
          23, 5, 3, 2, 0, -2, -3, 3, 7]

SGD_3M_START = "1990-07-01"
SGD_3M = [0, 55,
          -10, 20, -25, 40, -15, 10, 48, 0, 15, -10, 20, 5, 15, 10, 20, 0,
          10, 15, 20, 5, -5, 10, 0, 15, 5, -15, 0, 10, -20, -10, 5, 0,
          15, 30, 10, 25, 5, 15, 60, 10, 5, -25, -10, -35, 0, 25, 40, 20,
          0, -20, 10, 5, 68, 30, 15, -10, 10, 25, -5, 35, 20, 10, 40, 55,
          10, -10, 25, 0, 5, -25, -35, -30, 10, 45, 60, 20, 30, 152, -52, 35,
          0, 50, -10, 20, 10, -15, 5, 0, 15, -10, 20, 5, -5, 10, -15, 5,
          0, -10, 5, 0, 10, 35, 0, 10, 25, 5, 15, 0, 10, 5, -5, 10,
          -10, 0, 5, -10, 20, -32, 95, 20, 10, 30, 5, 15, 0, -10, 10, -5,
          5, -20, 10, 5, 15, -22, 62, 25, -15]
SGD_6M_START = "1991-01-01"
SGD_6M = [15, 5, 10, 20, 10, 12, 15, 10, 15, 12, 5, 8, 0, -5, -5, 3, 15, 20, 15, 20,
          0, -25, 5, 15, 5, 0, 25, 10, 10, 15, 20, 25, 10, 5, -15, -20, 15, 30, 75, 20,
          10, 5, 3, 0, 5, 3, 0, -3, -5, 0, 8, 10, 15, 10, 5, 3, 0, -5, 0, 10,
          20, 10, 3, 0, -5, 0, 10, 25, 15]

THB_3M_START = "2000-07-01"
THB_3M = [-50, -20,
          275, 100, -50, 10, 245, -40, -30, 100, 275, -40, 20, 10, 15, 25, 5, 10,
          20, 0, 15, 10, 5, 10, 5, 0, 5, 10, 5, 15, 30, 20, -5, -40,
          -60, 0, 120, 50, 30, 10, 20, -10, 10, -20, -10, -85, 390, 100, 10, 0,
          -20, 95, 30, -40, 10, 50, -10, 20, 10, 40, -10, 0, 10, 5, -5, 3,
          5, 0, 8, 3, 5, 3, 0, -3, -5, -10, -5, -15, -20, -50, 72, 30,
          10, 40, -10, 0, 10, -10, 5, -5, 0, 10, -5, 5, -10, 5, 0, 5, -3]
THB_6M_START = "2001-01-01"
THB_6M = [75, -40, 70, -35, 85, 10, 12, 10, 10, 8, 5, 5, 5, 10, 15, -10, -40, 40, 25, 10,
          -10, -30, 80, 5, 40, -20, 15, 5, 5, 0, 5, 3, 3, 3, 3, 0, -5, -10, -25, 40,
          15, 0, 3, 0, 3, 0, 0, 0, -3]

TRY_3M_START = "1999-01-01"
TRY_3M = [5, -33, 30, 10,
          -10, 15, 10, 5, -20, -30, -10, 10, 15, 30, 68, 10, 20, 5, 25, 10,
          25, 15, 30, 10, 15, 5, 20, 10, 25, 5, 15, 0, 10, 5, 0, 5,
          10, 0, -10, -30, -47, 10, 40, 20, 15, 10, 30, 20, 10, -10, 25, 5,
          10, 0, 25, 10, 5, 15, 0, 10, 5, -10, 10, 0, 20, -5, 5, -30,
          47, 10, -5, 5, 10, 5, 15, 5, 10, 5, -5, -15, -10, 5, 10, 15,
          5, -60, 188, 30, 20, 10, 15, 10, 5, 5, -5, -10, 10, 0, 15, -5,
          5, -5, 0, 10, 25]
TRY_6M_START = "1999-07-01"
TRY_6M = [-5, 0, 5, -20, -5, 15, 25, 15, 12, 15, 15, 10, 10, 10, 8, 5, 3, 3, -15, -30,
          20, 20, 15, 10, 5, 10, 8, 5, 8, 3, 0, 5, 3, 3, 5, 8, 10, 5, -5, -5,
          5, -5, -18, 47, 15, 10, 3, 0, 5, 0, -5, 5]

TWD_3M_START = "1996-07-01"
TWD_3M = [35, 41,
          5, -23, 43, 38, -5, -33, 32, 5, -22, 60, 15, 5, 20, 0, 13, -5,
          10, -10, -29, 0, 15, 33, 20, 5, 0, 10, 5, 0, 20, 25, 10, 0,
          5, -5, 5, 0, 10, 8, 5, 0, -10, 10, 38, 15, 10, 5, -5, -40,
          -74, 121, 60, 35, 25, 15, 5, 10, 33, 15, -18, -10, 49, 0, -15, 15,
          5, 0, 10, -5, 5, 15, 20, 10, -5, -15, -10, 0, 5, 27, 15, 5,
          -5, -18, 10, 5, 20, -5, 5, 10, -5, 20, -5, 0, 10, 5, 20, 15,
          32, 10, 5, 10, 5, 0, -10, -20, -26, -15, 5, 20, 23, 10, 15, 10, 17]
TWD_6M_START = "1997-01-01"
TWD_6M = [15, 0, 15, 5, 10, 12, 8, 10, 0, -13, -5, 20, 5, 8, 15, 5, 2, 3, 8, 5,
          0, 18, 10, -10, -47, 67, 30, 10, 15, -10, -5, 10, 3, 5, 8, 10, -10, -5, 10, 10,
          -5, 10, 0, 0, -5, 10, 5, 15, 20, 8, 5, -5, -20, 0, 13, 13, 14]

USD_3M_START = "1990-07-01"
USD_3M = [4, 3,
          -11, -5, 9, 3, 5, 0, 5, 3, 5, 8, 5, 3, 9, 5, 8, 5,
          3, 0, 2, 5, 3, 8, 5, 4, 7, 8, 5, 6, 5, 0, 3, 4,
          5, 6, 4, 7, 6, 3, 0, -3, -5, -6, -7, -5, 0, 4, 3, 2,
          0, 0, 5, 6, 4, 6, 3, 5, 4, 3, 0, 5, 4, 3, 5, 1,
          2, 4, 3, 0, -2, -5, -10, -15, -20, -5, 5, 8, 9, 7, 5, 3,
          5, 2, 5, 4, 5, 2, 3, 1, 4, 2, 3, 5, 4, 5, 3, 3,
          0, -3, 0, -2, -2, 1, 0, 2, 0, 3, 0, 5, 5, 7, 4, 3,
          -2, -1, 0, -2, -5, -42, 40, 8, 5, 8, 5, 6, 4, 3, 0, -3,
          0, 2, -1, 0, -2, 1, -1, 2, 5]
USD_6M_START = "1991-01-01"
USD_6M = [-7, 2, 3, 4, 5, 5, 7, 6, 2, 3, 4, 6, 7, 6, 3, 3, 5, 6, 5, 2,
          -5, -6, 1, 3, 1, 3, 5, 4, 3, 3, 3, 3, 3, 2, -3, -10, -15, 3, 7, 5,
          3, 4, 3, 2, 3, 3, 4, 4, 0, -2, -1, 1, 2, 3, 5, 4, 0, -1, -5, -20,
          15, 6, 4, 1, 0, 0, 0, 0, 1]

ZAR_3M_START = "1990-07-01"
ZAR_3M = [3, 0,
          -5, -3, -8, 5, -5, 0, -10, -3, 10, 5, -8, 15, 5, 10, 22, 15,
          10, 15, 5, 20, 10, 5, -5, 10, 5, -10, 5, 0, -5, 0, -8, 5,
          3, -5, 10, 0, 5, 10, 0, 8, 5, -5, 10, 3, 15, 5, 10, -5,
          -10, 0, -5, 3, 5, 15, 10, 5, 10, 5, 15, 3, 10, 5, 8, 0,
          10, 5, 0, 15, 5, -10, -20, -25, -35, -10, 10, 15, 5, 10, -5, 15,
          5, -10, 5, 10, -5, 5, 0, -10, 10, 5, 0, -5, -10, 5, 15, 0,
          5, -5, 0, -3, 5, 8, 0, -5, 5, 0, 10, 3, 0, 5, -3, 5,
          -5, 0, 5, -8, -10, -75, 213, 20, 10, -15, 20, 0, -5, 10, -10, 5,
          0, -5, 5, 0, -3, 5, 0, -5, -5]
ZAR_6M_START = "1991-01-01"
ZAR_6M = [-3, -5, -3, -5, 3, 5, 10, 18, 12, 12, 5, 3, 2, 0, -3, 0, 2, 3, 5, 5,
          3, 5, 10, 3, -5, 0, 8, 10, 8, 8, 6, 5, 5, 5, -3, -18, -25, 5, 8, 5,
          3, 3, 0, -3, 4, 2, -3, 5, 2, 0, 3, 2, 4, 3, 2, 2, -1, -2, -33, 45,
          10, 0, 0, 0, 0, 0, 0, -2, -3]

# table linking each panel to its arrays
PANELS = {
    "AUD": (AUD_3M_START, AUD_3M_STEP, AUD_3M, AUD_6M_START, AUD_6M_STEP, AUD_6M),
    "BRL": (BRL_3M_START, 3, BRL_3M, BRL_6M_START, 6, BRL_6M),
    "CAD": (CAD_3M_START, 3, CAD_3M, CAD_6M_START, 6, CAD_6M),
    "CHF": (CHF_3M_START, 3, CHF_3M, CHF_6M_START, 6, CHF_6M),
    "CLP": (CLP_3M_START, 3, CLP_3M, CLP_6M_START, 6, CLP_6M),
    "COP": (COP_3M_START, 3, COP_3M, COP_6M_START, 6, COP_6M),
    "CZK": (CZK_3M_START, 3, CZK_3M, CZK_6M_START, 6, CZK_6M),
    "DEM": (DEM_3M_START, 3, DEM_3M, DEM_6M_START, 6, DEM_6M),
    "ESP": (ESP_3M_START, 3, ESP_3M, ESP_6M_START, 6, ESP_6M),
    "EUR": (EUR_3M_START, 3, EUR_3M, EUR_6M_START, 6, EUR_6M),
    "FRF": (FRF_3M_START, 3, FRF_3M, FRF_6M_START, 6, FRF_6M),
    "GBP": (GBP_3M_START, 3, GBP_3M, GBP_6M_START, 6, GBP_6M),
    "HUF": (HUF_3M_START, 3, HUF_3M, HUF_6M_START, 6, HUF_6M),
    "IDR": (IDR_3M_START, 3, IDR_3M, IDR_6M_START, 6, IDR_6M),
    "ILS": (ILS_3M_START, 3, ILS_3M, ILS_6M_START, 6, ILS_6M),
    "INR": (INR_3M_START, 3, INR_3M, INR_6M_START, 6, INR_6M),
    "ITL": (ITL_3M_START, 3, ITL_3M, ITL_6M_START, 6, ITL_6M),
    "JPY": (JPY_3M_START, 3, JPY_3M, JPY_6M_START, 6, JPY_6M),
    "KRW": (KRW_3M_START, 3, KRW_3M, KRW_6M_START, 6, KRW_6M),
    "MXN": (MXN_3M_START, 3, MXN_3M, MXN_6M_START, 6, MXN_6M),
    "MYR": (MYR_3M_START, 3, MYR_3M, MYR_6M_START, 6, MYR_6M),
    "NLG": (NLG_3M_START, 3, NLG_3M, NLG_6M_START, 6, NLG_6M),
    "NOK": (NOK_3M_START, 3, NOK_3M, NOK_6M_START, 6, NOK_6M),
    "NZD": (NZD_3M_START, 3, NZD_3M, NZD_6M_START, 6, NZD_6M),
    "PEN": (PEN_3M_START, 3, PEN_3M, PEN_6M_START, 6, PEN_6M),
    "PLN": (PLN_3M_START, 3, PLN_3M, PLN_6M_START, 6, PLN_6M),
    "RON": (RON_3M_START, 3, RON_3M, RON_6M_START, 6, RON_6M),
    "RUB": (RUB_3M_START, 3, RUB_3M, RUB_6M_START, 6, RUB_6M),
    "SEK": (SEK_3M_START, 3, SEK_3M, SEK_6M_START, 6, SEK_6M),
    "SGD": (SGD_3M_START, 3, SGD_3M, SGD_6M_START, 6, SGD_6M),
    "THB": (THB_3M_START, 3, THB_3M, THB_6M_START, 6, THB_6M),
    "TRY": (TRY_3M_START, 3, TRY_3M, TRY_6M_START, 6, TRY_6M),
    "TWD": (TWD_3M_START, 3, TWD_3M, TWD_6M_START, 6, TWD_6M),
    "USD": (USD_3M_START, 3, USD_3M, USD_6M_START, 6, USD_6M),
    "ZAR": (ZAR_3M_START, 3, ZAR_3M, ZAR_6M_START, 6, ZAR_6M),
}

BLUE = "#1f77b4"
ORANGE = "#ff7f0e"

sns.set_style("darkgrid")
plt.rcParams["font.family"] = ["Liberation Sans", "DejaVu Sans"]

fig, axes = plt.subplots(9, 4, figsize=(28.91, 39.32), dpi=100)
fig.subplots_adjust(left=0.0201, right=0.9962, top=0.9433, bottom=0.0211,
                    wspace=0.1055, hspace=0.216)


def dates(start, step, n):
    return pd.date_range(start=start, periods=n, freq=f"{step}MS")


for ax, code in zip(axes.flat, CODES):
    s3, st3, v3, s6, st6, v6 = PANELS[code]
    d3 = dates(s3, st3, len(v3))
    d6 = dates(s6, st6, len(v6))
    sns.lineplot(x=d3, y=np.asarray(v3, float), ax=ax, color=BLUE, linewidth=1.75,
                 drawstyle="steps-post", estimator=None, legend=False)
    sns.lineplot(x=d6, y=np.asarray(v6, float), ax=ax, color=ORANGE, linewidth=1.75,
                 drawstyle="steps-post", estimator=None, legend=False)
    ax.axhline(0, color="black", linestyle="--", linewidth=2)
    ax.set_title(code, fontsize=14)
    ax.set_xlabel("")
    ax.set_ylabel("")
    ax.xaxis.set_major_locator(mdates.YearLocator(4))
    ax.xaxis.set_major_formatter(mdates.DateFormatter("%Y"))
    ax.tick_params(labelsize=11)

for ax in axes.flat[len(CODES):]:
    ax.remove()

handles = [Line2D([], [], color=BLUE, linewidth=1.75), Line2D([], [], color=ORANGE, linewidth=1.75)]
fig.legend(handles, [LABEL_3M, LABEL_6M], loc="lower center", ncol=2, fontsize=17,
           bbox_to_anchor=(0.5, 0.002))
fig.suptitle(TITLE, x=0.4345, y=0.9992, va="top", fontsize=27)

fig.savefig("out.png", dpi=100)
